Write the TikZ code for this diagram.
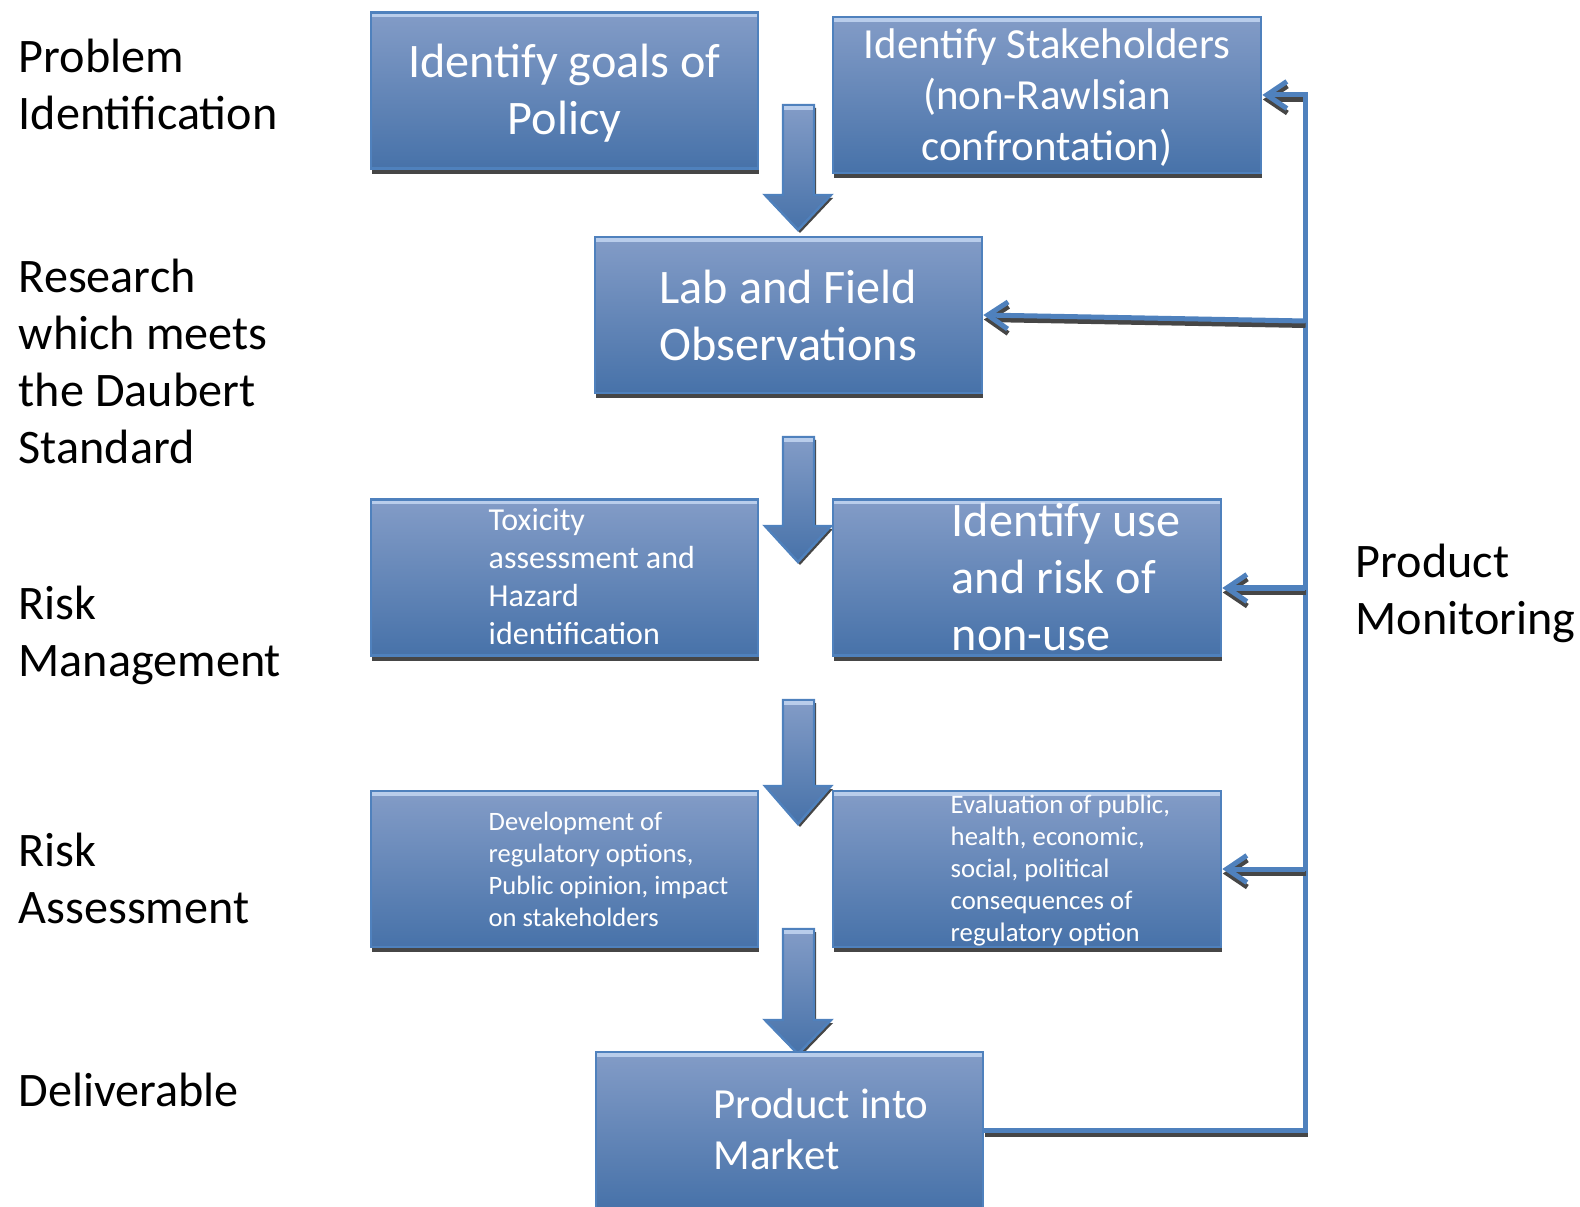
\documentclass[tikz,border=0pt]{standalone}
\usepackage{fontspec}
\setmainfont{Carlito}
\usetikzlibrary{arrows.meta,shadows}
\definecolor{boxtop}{RGB}{131,156,199}
\definecolor{boxbot}{RGB}{71,114,169}
\definecolor{rimblue}{RGB}{79,129,189}
\definecolor{hilite}{RGB}{185,205,235}
\definecolor{shadowgray}{RGB}{70,70,70}

\begin{document}
\begin{tikzpicture}[x=0.01cm,y=-0.01cm,
    blockbox/.style={rectangle, top color=boxtop, bottom color=boxbot, draw=rimblue, line width=0.7pt,
      inner sep=0pt, minimum width=3.87cm, minimum height=1.56cm, text=white, align=center,
      drop shadow={shadow xshift=0.01cm, shadow yshift=-0.05cm, fill=shadowgray, opacity=1},
      path picture={\fill[hilite] (path picture bounding box.north west) rectangle ([yshift=-0.05cm]path picture bounding box.north east);}},
    boxtext/.style={anchor=west, align=left, inner sep=0pt, text=white},
    sidetext/.style={anchor=west, align=left, inner sep=0pt, font=\fontsize{13.7}{16.2}\selectfont},
    fb/.style={-{Straight Barb[length=0.2cm,width=0.27cm]}, draw=rimblue, line width=0.05cm, line join=miter},
    fbshade/.style={fb, draw=shadowgray, transform canvas={xshift=0.005cm,yshift=-0.045cm}}]
  \useasboundingbox (0,0) rectangle (1580,1207);

  \node[sidetext] (lprob) at (18,84) {Problem\\Identification};
  \node[sidetext] (lres) at (18,361) {Research\\which meets\\the Daubert\\Standard};
  \node[sidetext] (lman) at (18,635) {Risk\\Management};
  \node[sidetext] (lass) at (18,878) {Risk\\Assessment};
  \node[sidetext] (ldel) at (18,1090) {Deliverable};
  \node[sidetext] (lmon) at (1355,593) {Product\\Monitoring};

  \foreach \t/\b/\p in {105/195/230, 437/526/562, 700/786/824, 929/1020/1054} {
    \fill[shadowgray, transform canvas={xshift=0.02cm,yshift=-0.03cm}]
      (783,\t) -- (814,\t) -- (814,\b) -- (831,\b) -- (798,\p) -- (765,\b) -- (783,\b) -- cycle;
    \shadedraw[top color=boxtop, bottom color=boxbot, draw=rimblue, line width=0.7pt]
      (783,\t) -- (814,\t) -- (814,\b) -- (831,\b) -- (798,\p) -- (765,\b) -- (783,\b) -- cycle;
    \fill[hilite] (784,\t+1) rectangle (813,\t+5);
  }

  \node[blockbox] (b1) at (564.5,90.5) {};
  \node[blockbox, minimum width=4.28cm] (b2) at (1047,95) {};
  \node[blockbox, font=\fontsize{13.7}{16.2}\selectfont] (b3) at (788.5,315) {Lab and Field\\Observations};
  \node[blockbox] (b4) at (564.5,577.5) {};
  \node[blockbox, minimum width=3.88cm] (b5) at (1027,577.5) {};
  \node[blockbox] (b6) at (564.5,869) {};
  \node[blockbox, minimum width=3.88cm] (b7) at (1027,869) {};
  \node[blockbox] (b8) at (789.5,1130) {};

  \node[boxtext, anchor=center, align=center, font=\fontsize{13.7}{16.2}\selectfont] (t1) at (564.5,93.5)
    {Identify goals of\\Policy};
  \node[boxtext, anchor=center, align=center, font=\fontsize{12.2}{14.5}\selectfont] (t2) at (1047,97.5)
    {Identify Stakeholders\\(non-Rawlsian\\confrontation)};
  \node[boxtext, font=\fontsize{9.1}{10.8}\selectfont] (t4) at (488,577)
    {Toxicity\\assessment and\\Hazard\\identification};
  \node[boxtext, font=\fontsize{13.7}{16.2}\selectfont] (t5) at (951,577)
    {Identify use\\and risk of\\non-use};
  \node[boxtext, font=\fontsize{7.55}{9.1}\selectfont] (t6) at (488,869)
    {Development of\\regulatory options,\\Public opinion, impact\\on stakeholders};
  \node[boxtext, font=\fontsize{7.6}{9.1}\selectfont] (t7) at (950,871)
    {Evaluation of public,\\health, economic,\\social, political\\consequences of\\regulatory option};
  \node[boxtext, font=\fontsize{12.2}{14.5}\selectfont] (t8) at (713,1129) {Product into\\Market};

  \coordinate (rtop) at (1305,95);
  \coordinate (rlab) at (1305,321);
  \coordinate (ruse) at (1305,588);
  \draw[fbshade] (b8.east) -| (rtop) -- (b2.east);
  \draw[fb] (b8.east) -| (rtop) -- (b2.east);
  \draw[fbshade] (rlab) -- (b3.east);
  \draw[fb] (rlab) -- (b3.east);
  \draw[fbshade] (ruse) -- (b5.east |- ruse);
  \draw[fb] (ruse) -- (b5.east |- ruse);
  \draw[fbshade] (rtop |- b7.east) -- (b7.east);
  \draw[fb] (rtop |- b7.east) -- (b7.east);
\end{tikzpicture}
\end{document}
